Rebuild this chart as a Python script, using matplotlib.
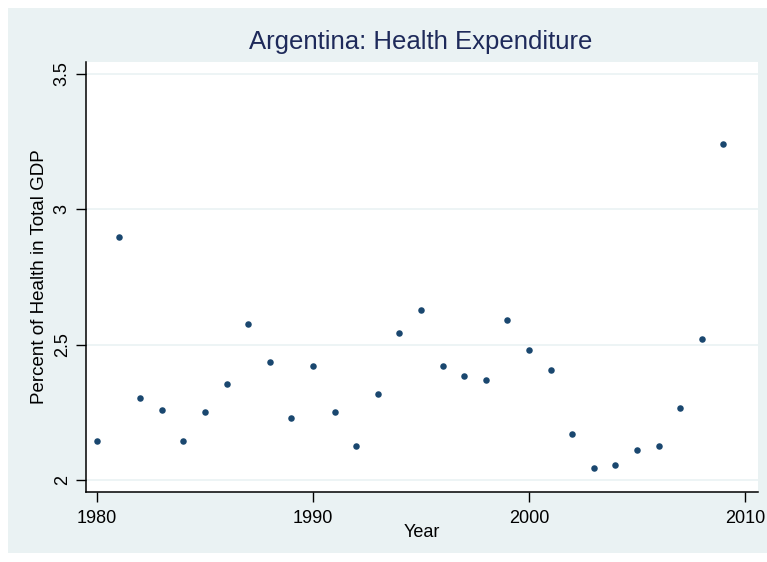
import matplotlib.pyplot as plt
from matplotlib.patches import Rectangle

plt.rcParams['font.family'] = ['Liberation Sans', 'DejaVu Sans']

years = list(range(1980, 2010))
health_pct = [2.144, 2.897, 2.303, 2.258, 2.144, 2.251, 2.354, 2.576, 2.435, 2.229,
              2.420, 2.251, 2.125, 2.317, 2.542, 2.627, 2.420, 2.384, 2.369, 2.590,
              2.480, 2.406, 2.170, 2.044, 2.055, 2.110, 2.125, 2.266, 2.520, 3.240]
yticks = [2, 2.5, 3, 3.5]
xticks = [1980, 1990, 2000, 2010]

W, H = 767, 562
fig = plt.figure(figsize=(W / 100, H / 100), dpi=100, facecolor="white")
fig.patches.append(Rectangle((8 / W, 1 - 553 / H), (W - 8) / W, (553 - 8) / H,
                             transform=fig.transFigure, facecolor="#EAF2F3",
                             edgecolor="none", zorder=-10))

left, right, top, bottom = 86, 758, 62, 492
ax = fig.add_axes([left / W, 1 - bottom / H, (right - left) / W, (bottom - top) / H])
ax.set_facecolor("white")

ax.scatter(years, health_pct, s=22, color="#1A476F", marker="o", linewidths=0, zorder=3)

ax.set_xlim(1979.49, 2010.6)
ax.set_ylim(1.956, 3.544)
ax.set_xticks(xticks)
ax.set_yticks(yticks)
ax.set_yticklabels(["2", "2.5", "3", "3.5"], rotation=90, va="center")
ax.grid(axis="y", color="#EAF2F3", linewidth=1.2, zorder=0)
ax.tick_params(direction="out", length=7, width=1, labelsize=13, colors="black", pad=6)
ax.tick_params(axis="y", pad=4)
for s in ["top", "right"]:
    ax.spines[s].set_visible(False)
for s in ["left", "bottom"]:
    ax.spines[s].set_linewidth(1.1)

ax.set_xlabel("Year", fontsize=13, labelpad=-2)
ax.set_ylabel("Percent of Health in Total GDP", fontsize=13.5, labelpad=4)
fig.text(421 / W, 1 - 42 / H, "Argentina: Health Expenditure", ha="center", va="center",
         fontsize=18.5, color="#1E2A5A")

fig.savefig("out.png", dpi=100)
